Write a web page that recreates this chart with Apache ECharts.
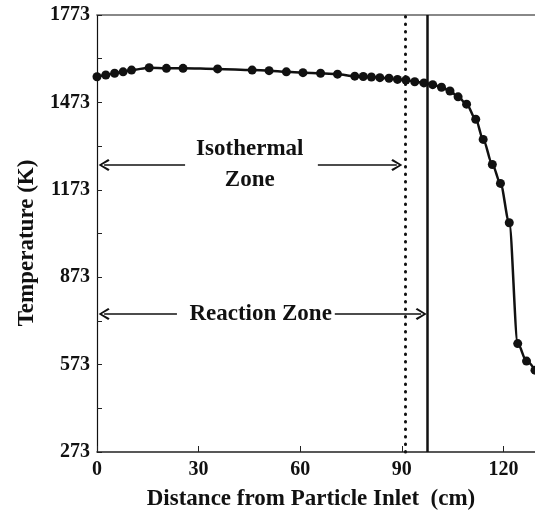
<!DOCTYPE html>
<html>
<head>
<meta charset="utf-8">
<script src="https://cdn.jsdelivr.net/npm/echarts@6/dist/echarts.min.js"></script>
<style>
html,body{margin:0;padding:0;background:#fff;}
#chart{width:535px;height:512px;}
</style>
</head>
<body>
<div id="chart"></div>
<script>
// Distance from particle inlet (cm)
var distance = [0, 2.6, 5.2, 7.7, 10.2, 15.4, 20.5, 25.4, 35.6, 45.8, 50.8, 55.9, 60.8,
  66.0, 71.0, 76.1, 78.6, 81.0, 83.5, 86.2, 88.7, 91.2, 93.8, 96.5, 99.1, 101.7,
  104.2, 106.6, 109.1, 111.8, 114.0, 116.7, 119.1, 121.7, 124.2, 126.8, 129.3];
// Temperature (K)
var temperature = [1561, 1567, 1573, 1578, 1584, 1592, 1590, 1590, 1588, 1584, 1582, 1578, 1575,
  1573, 1570, 1563, 1562, 1560, 1558, 1556, 1552, 1550, 1544, 1540, 1534, 1525,
  1512, 1492, 1467, 1415, 1346, 1260, 1195, 1060, 645, 585, 554];
var xTicks = [0, 30, 60, 90, 120];
var yTicks = [273, 573, 873, 1173, 1473, 1773];
// Zone boundaries (cm)
var isothermalEnd = 91;
var reactionEnd = 97.6;
// Annotation levels (K)
var isoLabelT = 1258;
var reactLabelT = 747;
// Arrow segment ends (cm); arrowhead sits centred on the headed end
var isoArrows = [[2.1, 26.0], [65.2, 88.5]];
var reactArrows = [[2.1, 23.6], [70.2, 95.7]];
var isoText = 'Isothermal\nZone';
var reactText = 'Reaction Zone';

var ink = '#111';
var serif = 'Liberation Serif';
var chevron = 'path://M6,0 L12,9.6 L10.3,11 L6,3.2 L1.7,11 L0,9.6 Z';

function arrowPair(range, t, headAtStart) {
  return [
    {coord: [range[0], t], symbol: headAtStart ? chevron : 'none', symbolSize: [12, 11]},
    {coord: [range[1], t], symbol: headAtStart ? 'none' : chevron, symbolSize: [12, 11]}
  ];
}

var chart = echarts.init(document.getElementById('chart'), null, {renderer: 'canvas'});
chart.setOption({
  animation: false,
  backgroundColor: '#fff',
  grid: {left: 97, top: 15, right: 0, bottom: 60, containLabel: false, outerBoundsMode: 'none'},
  xAxis: [{
    type: 'value', min: 0, max: 129.3, interval: 30,
    name: 'Distance from Particle Inlet  (cm)', nameLocation: 'middle', nameGap: 36,
    nameTextStyle: {fontFamily: serif, fontWeight: 'bold', fontSize: 23, color: ink, padding: [0, 10, 0, 0]},
    axisLine: {lineStyle: {color: '#222', width: 1.5}},
    axisTick: {inside: true, length: 6, lineStyle: {color: '#222', width: 1}},
    axisLabel: {margin: 8, fontFamily: serif, fontWeight: 'bold', fontSize: 20, color: ink,
      formatter: function (v) { return xTicks.indexOf(v) >= 0 ? String(v) : ''; }},
    splitLine: {show: false}
  }, {
    type: 'value', position: 'top', min: 0, max: 129.3,
    axisLine: {lineStyle: {color: '#888', width: 2}},
    axisTick: {show: false}, axisLabel: {show: false}, splitLine: {show: false}
  }],
  yAxis: {
    type: 'value', min: 273, max: 1773, interval: 300,
    name: 'Temperature (K)', nameLocation: 'middle', nameGap: 58,
    nameTextStyle: {fontFamily: serif, fontWeight: 'bold', fontSize: 23, color: ink, padding: [0, 19, 0, 0]},
    axisLine: {show: true, lineStyle: {color: '#111', width: 1.2}},
    axisTick: {inside: true, length: 5, lineStyle: {color: '#222', width: 1}},
    minorTick: {show: true, splitNumber: 2, length: 5, lineStyle: {color: '#222', width: 1}},
    axisLabel: {margin: 7, fontFamily: serif, fontWeight: 'bold', fontSize: 20, color: ink,
      formatter: function (v) { return yTicks.indexOf(v) >= 0 ? String(v) : ''; }},
    splitLine: {show: false}
  },
  series: [{
    type: 'line',
    data: distance.map(function (d, i) { return [d, temperature[i]]; }),
    smooth: 0.3, smoothMonotone: 'x',
    clip: false,
    symbol: 'circle', symbolSize: 9,
    itemStyle: {color: ink},
    lineStyle: {color: ink, width: 2.5},
    z: 5,
    markLine: {
      silent: true, symbol: 'none', animation: false,
      label: {show: false},
      data: [
        [{coord: [isothermalEnd, 273], lineStyle: {type: [0.5, 7], cap: 'round', width: 3, color: ink}},
         {coord: [isothermalEnd, 1773]}],
        [{coord: [reactionEnd, 273], lineStyle: {type: 'solid', width: 2.5, color: ink}},
         {coord: [reactionEnd, 1773]}],
        arrowPair(isoArrows[0], isoLabelT, true),
        arrowPair(isoArrows[1], isoLabelT, false),
        arrowPair(reactArrows[0], reactLabelT, true),
        arrowPair(reactArrows[1], reactLabelT, false)
      ],
      lineStyle: {color: ink, width: 1.5, type: 'solid'},
      itemStyle: {color: ink}
    },
    markPoint: {
      silent: true, symbol: 'circle', symbolSize: 0, animation: false,
      label: {show: true, position: 'inside', formatter: '{b}', fontFamily: serif, fontWeight: 'bold',
        fontSize: 23, color: ink, lineHeight: 31, align: 'center'},
      data: [
        {name: isoText, coord: [45.1, isoLabelT]},
        {name: reactText, coord: [48.3, reactLabelT]}
      ]
    }
  }]
});
</script>
</body>
</html>
